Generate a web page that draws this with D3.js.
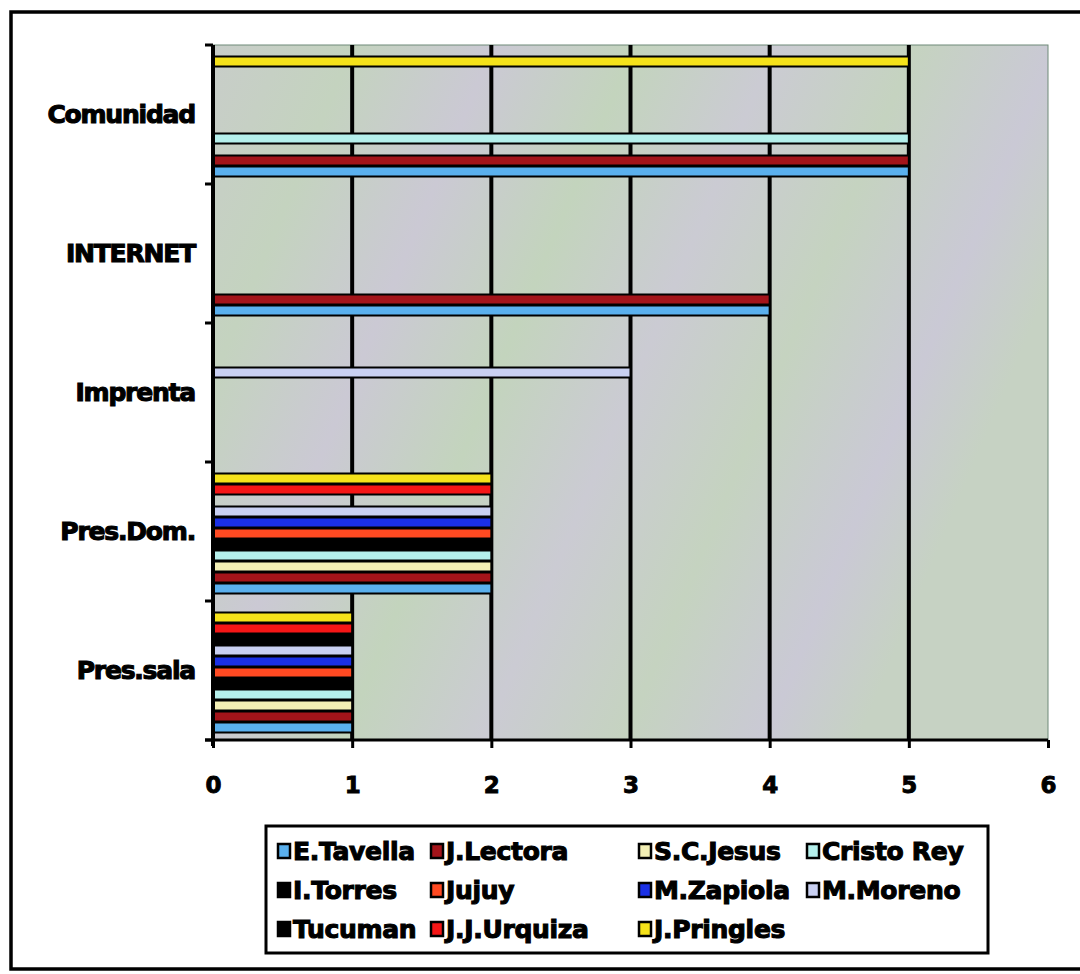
<!DOCTYPE html>
<html>
<head>
<meta charset="utf-8">
<script src="https://cdn.jsdelivr.net/npm/d3@7"></script>
<style>
  html, body { margin: 0; padding: 0; background: #ffffff; }
  svg { display: block; }
  text { font-family: "DejaVu Sans", "Liberation Sans", sans-serif; font-weight: bold; fill: #000; }
</style>
</head>
<body>
<svg id="chart" width="1080" height="974"></svg>
<script>
// ---- data (categories listed bottom to top) ----
const categories = ["Pres.sala", "Pres.Dom.", "Imprenta", "INTERNET", "Comunidad"];
const seriesNames = ["E.Tavella", "J.Lectora", "S.C.Jesus", "Cristo Rey", "I.Torres", "Jujuy",
                     "M.Zapiola", "M.Moreno", "Tucuman", "J.J.Urquiza", "J.Pringles"];
const eTavella   = [1, 2, 0, 4, 5];
const jLectora   = [1, 2, 0, 4, 5];
const scJesus    = [1, 2, 0, 0, 0];
const cristoRey  = [1, 2, 0, 0, 5];
const iTorres    = [1, 2, 0, 0, 0];
const jujuy      = [1, 2, 0, 0, 0];
const mZapiola   = [1, 2, 0, 0, 0];
const mMoreno    = [1, 2, 3, 0, 0];
const tucuman    = [1, 0, 0, 0, 0];
const jjUrquiza  = [1, 2, 0, 0, 0];
const jPringles  = [1, 2, 0, 0, 5];
const xTicks = [0, 1, 2, 3, 4, 5, 6];
const seriesColors = ["#5ab0ee", "#a3141a", "#f3efb5", "#b5f0ec", "#000000", "#ff4a22",
                      "#1a30e6", "#c9d0f2", "#000000", "#f51616", "#f5e21a"];

const seriesValues = [eTavella, jLectora, scJesus, cristoRey, iTorres, jujuy,
                      mZapiola, mMoreno, tucuman, jjUrquiza, jPringles];

const svg = d3.select("#chart");

// outer frame
svg.append("rect").attr("x", 11).attr("y", 12).attr("width", 1080).attr("height", 957)
  .attr("fill", "#fff").attr("stroke", "#000").attr("stroke-width", 3.5);

const plot = { left: 213, right: 1048, top: 45, bottom: 740 };

const x = d3.scaleLinear().domain([0, 6]).range([plot.left, plot.right]);
const y0 = d3.scaleBand().domain(categories.slice().reverse()).range([plot.top, plot.bottom]).padding(0);
const bw = y0.bandwidth();
const y1 = d3.scaleBand().domain(seriesNames).range([bw - 7, 11]).padding(0);

// plot background (mottled grey-green)
const defs = svg.append("defs");
const grad = defs.append("linearGradient").attr("id", "bg").attr("x1", "0").attr("y1", "0").attr("x2", "1").attr("y2", "0.35");
[["0", "#c8cdc9"], ["0.15", "#c4d3bf"], ["0.3", "#cbc9d4"], ["0.45", "#c3d4bd"], ["0.6", "#cbcbd3"],
 ["0.75", "#c5d3c0"], ["0.9", "#cac9d5"], ["1", "#c6d2c3"]].forEach(([o, c]) =>
  grad.append("stop").attr("offset", o).attr("stop-color", c));
svg.append("rect").attr("x", plot.left).attr("y", plot.top)
  .attr("width", plot.right - plot.left).attr("height", plot.bottom - plot.top)
  .attr("fill", "url(#bg)").attr("stroke", "#6f8a78").attr("stroke-width", 1);

// vertical gridlines
svg.append("g").selectAll("line").data(xTicks.filter(t => t > 0 && t < 6)).join("line")
  .attr("x1", d => x(d)).attr("x2", d => x(d))
  .attr("y1", plot.top).attr("y2", plot.bottom)
  .attr("stroke", "#000").attr("stroke-width", 4);

// bars
const bars = [];
seriesNames.forEach((s, si) => {
  categories.forEach((c, ci) => {
    const v = seriesValues[si][ci];
    if (v > 0) bars.push({ s, c, v, color: seriesColors[si] });
  });
});
svg.append("g").selectAll("rect").data(bars).join("rect")
  .attr("x", x(0))
  .attr("y", d => y0(d.c) + y1(d.s) + 0.5)
  .attr("width", d => x(d.v) - x(0))
  .attr("height", y1.bandwidth() - 1)
  .attr("fill", d => d.color)
  .attr("stroke", "#000").attr("stroke-width", 2);

// axes
const yAxisG = svg.append("g").attr("transform", `translate(${plot.left},0)`)
  .call(d3.axisLeft(y0).tickSize(0).tickFormat(""));
yAxisG.select(".domain").remove();
// left axis line
svg.append("line").attr("x1", plot.left).attr("x2", plot.left)
  .attr("y1", plot.top).attr("y2", plot.bottom + 6)
  .attr("stroke", "#000").attr("stroke-width", 4);
// category boundary ticks
const boundaries = categories.map(c => y0(c)).concat([plot.bottom]);
svg.append("g").selectAll("line").data(boundaries).join("line")
  .attr("x1", plot.left - 8).attr("x2", plot.left)
  .attr("y1", d => d).attr("y2", d => d)
  .attr("stroke", "#000").attr("stroke-width", 3);

// category labels
svg.append("g").selectAll("text").data(categories).join("text")
  .attr("x", 195)
  .attr("y", d => y0(d) + bw / 2)
  .attr("text-anchor", "end")
  .attr("dominant-baseline", "central")
  .attr("font-size", 25)
  .attr("letter-spacing", "-1.2")
  .attr("stroke", "#000").attr("stroke-width", 1.1)
  .text(d => d);

// x axis
const xAxisG = svg.append("g").attr("transform", `translate(0,${plot.bottom})`)
  .call(d3.axisBottom(x).tickValues(xTicks).tickSize(8).tickPadding(29).tickFormat(d3.format("d")));
xAxisG.select(".domain").attr("d", `M${plot.left - 8},0H${plot.right}`).attr("stroke", "#000").attr("stroke-width", 3);
xAxisG.selectAll(".tick line").attr("stroke", "#000").attr("stroke-width", 3);
xAxisG.selectAll(".tick text")
  .attr("font-family", "'DejaVu Sans', sans-serif").attr("font-weight", "bold")
  .attr("font-size", 23).attr("fill", "#000")
  .attr("stroke", "#000").attr("stroke-width", 0.9);

// legend
const legend = svg.append("g");
legend.append("rect").attr("x", 266).attr("y", 826).attr("width", 722).attr("height", 127)
  .attr("fill", "#fff").attr("stroke", "#000").attr("stroke-width", 3);
const colX = [277, 430, 638, 806];
const rowY = [851, 890, 929];
const items = legend.selectAll("g.item").data(seriesNames).join("g")
  .attr("class", "item")
  .attr("transform", (d, i) => `translate(${colX[i % 4]},${rowY[Math.floor(i / 4)]})`);
items.append("rect").attr("x", 1).attr("y", -7).attr("width", 12).attr("height", 14)
  .attr("fill", (d, i) => seriesColors[i]).attr("stroke", "#000").attr("stroke-width", 2.5);
items.append("text").attr("x", 16).attr("y", 0)
  .attr("dominant-baseline", "central")
  .attr("font-size", 25).attr("letter-spacing", "-0.3")
  .attr("stroke", "#000").attr("stroke-width", 1.1)
  .text(d => d);
</script>
</body>
</html>
